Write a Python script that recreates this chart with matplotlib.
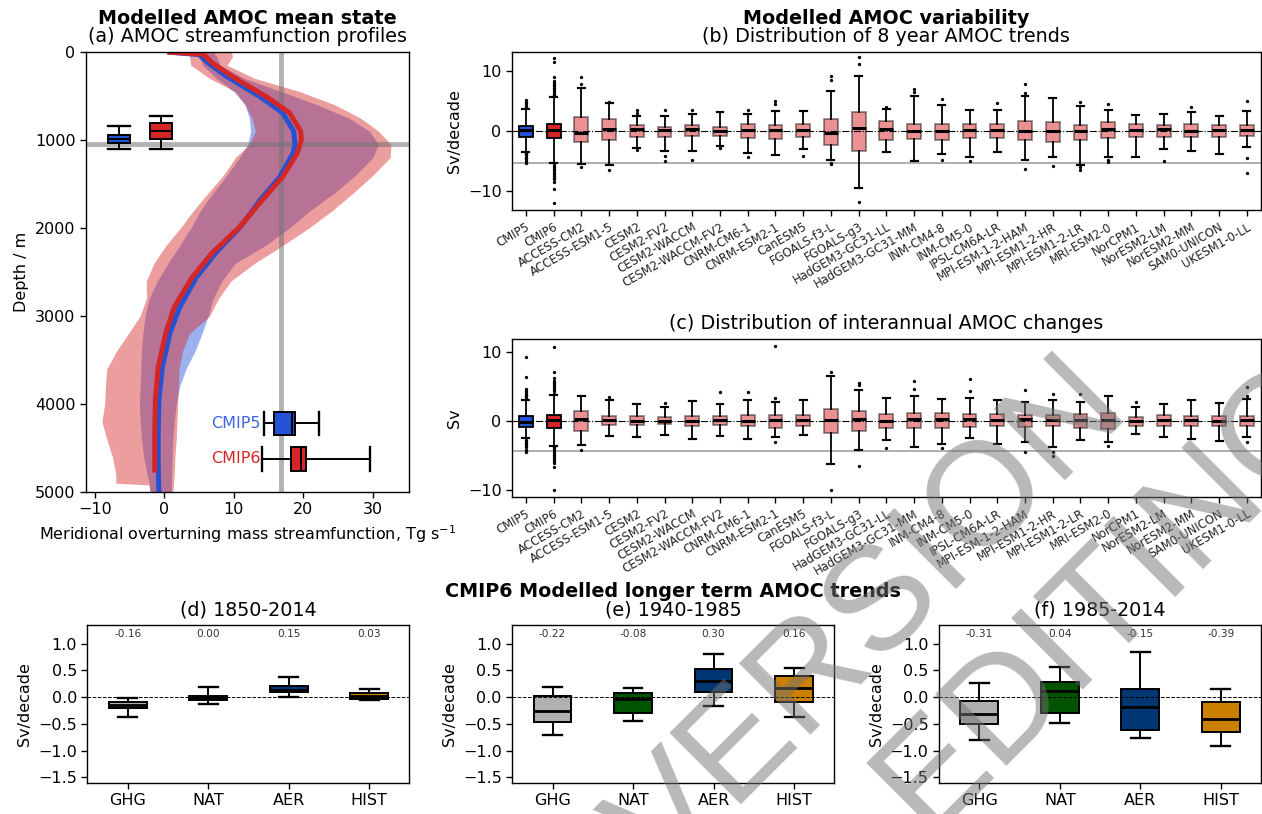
import matplotlib
matplotlib.use("Agg")
import matplotlib.pyplot as plt

plt.rcParams['font.family'] = ['DejaVu Sans']
plt.rcParams['font.size'] = 11.5
plt.rcParams['axes.linewidth'] = 1.0
plt.rcParams['xtick.major.width'] = 1.0
plt.rcParams['ytick.major.width'] = 1.0
plt.rcParams['xtick.major.size'] = 4
plt.rcParams['ytick.major.size'] = 4

# ---------------- (a) streamfunction profiles ----------------
depth6 = [0, 25, 125, 280, 510, 690, 900, 1000, 1150, 1420, 1680, 1990, 2280, 2560,
          2900, 3190, 3580, 3950, 4330, 4780]
amoc6 = [0.5, 5.6, 6.9, 9.8, 14.7, 18.0, 19.6, 19.7, 19.1, 17.0, 14.1, 10.8, 6.9, 4.0,
         1.4, 0.2, -0.9, -1.3, -1.4, -1.4]
depth5 = [0, 30, 125, 280, 510, 690, 900, 1050, 1150, 1420, 1680, 1990, 2280, 2560,
          2900, 3190, 3580, 3950, 4330, 4700, 5000]
amoc5 = [0.4, 5.0, 6.3, 9.0, 13.8, 17.0, 18.6, 18.8, 18.5, 16.6, 13.8, 10.9, 7.4, 4.6,
         2.2, 0.8, -0.3, -0.8, -0.9, -0.9, -0.8]

band_depth = [0, 50, 150, 300, 450, 600, 750, 900, 1050, 1200, 1400, 1600, 1800, 2000,
              2200, 2400, 2600, 2800, 3000, 3200, 3400, 3600, 3800, 4000, 4200, 4400,
              4600, 4800, 4900, 4920, 5000]
cmip6_lo = [3.6, 3.6, 3.8, 6.5, 10.2, 11.6, 12.6, 13.1, 12.2, 10.2, 8.5, 6.3, 4.2, 2.3,
            0.2, -1.5, -2.6, -2.6, -3.5, -5.2, -6.9, -8.3, -8.5, -8.6, -9.0, -8.3,
            -7.5, -7.0, -7.0, -2.2, -2.1]
cmip6_hi = [9.6, 9.8, 9.0, 13.0, 19.5, 24.5, 28.2, 30.8, 32.6, 32.5, 30.0, 27.2, 24.2,
            20.8, 17.0, 13.0, 9.6, 7.8, 6.5, 3.6, 2.6, 2.1, 2.0, 1.9, 1.8, 1.7, 1.5,
            1.4, 1.3, 1.3, 1.2]
cmip5_lo = [5.0, 5.0, 5.5, 7.5, 10.0, 11.6, 12.2, 12.4, 12.0, 10.8, 9.0, 7.0, 5.2, 3.8,
            2.2, 0.5, -1.0, -2.2, -2.8, -3.1, -3.3, -3.4, -3.5, -3.6, -3.5, -3.3,
            -3.0, -2.5, -2.2, -2.2, -2.1]
cmip5_hi = [7.0, 7.5, 8.0, 11.5, 16.8, 22.0, 26.5, 29.5, 30.8, 30.0, 27.5, 24.5, 21.0,
            18.0, 14.5, 10.2, 8.3, 7.0, 6.3, 5.4, 4.4, 3.1, 2.2, 1.7, 1.4, 1.2, 1.1,
            1.0, 1.0, 1.0, 1.0]

obs_strength = 16.8      # Tg/s
obs_depth = 1040         # m

# depth of the overturning maximum (m)
maxdepth5 = dict(whislo=837, q1=947, med=992, q3=1038, whishi=1102)
maxdepth6 = dict(whislo=727, q1=811, med=894, q3=989, whishi=1102)
# overturning maximum strength (Tg/s)
strength5 = dict(whislo=14.3, q1=15.8, med=18.4, q3=18.85, whishi=22.2)
strength6 = dict(whislo=14.1, q1=18.2, med=19.7, q3=20.4, whishi=29.6)

# ---------------- (b), (c) model distributions ----------------
models = ['CMIP5', 'CMIP6', 'ACCESS-CM2', 'ACCESS-ESM1-5', 'CESM2', 'CESM2-FV2',
          'CESM2-WACCM', 'CESM2-WACCM-FV2', 'CNRM-CM6-1', 'CNRM-ESM2-1', 'CanESM5',
          'FGOALS-f3-L', 'FGOALS-g3', 'HadGEM3-GC31-LL', 'HadGEM3-GC31-MM',
          'INM-CM4-8', 'INM-CM5-0', 'IPSL-CM6A-LR', 'MPI-ESM-1-2-HAM', 'MPI-ESM1-2-HR',
          'MPI-ESM1-2-LR', 'MRI-ESM2-0', 'NorCPM1', 'NorESM2-LM', 'NorESM2-MM',
          'SAM0-UNICON', 'UKESM1-0-LL']

trend_med = [0.1, 0.2, -0.3, 0.3, 0.3, 0.1, 0.3, 0.0, 0.1, 0.1, 0.2, -0.3, 0.4, 0.3,
             0.0, 0.0, 0.1, 0.1, 0.0, 0.0, 0.0, 0.3, 0.2, 0.3, 0.0, 0.1, 0.2]
trend_q1 = [-1.0, -1.2, -1.9, -1.6, -1.0, -1.0, -0.8, -0.9, -1.2, -1.3, -1.0, -2.4,
            -3.3, -1.6, -1.4, -1.6, -1.2, -1.2, -1.6, -1.8, -1.6, -1.2, -1.0, -1.0,
            -1.0, -1.0, -0.8]
trend_q3 = [0.8, 1.1, 2.3, 1.9, 0.9, 0.7, 0.9, 0.7, 1.1, 0.9, 1.1, 1.9, 3.1, 1.6, 1.2,
            1.2, 1.2, 1.2, 1.6, 1.4, 0.9, 1.4, 1.2, 0.9, 1.2, 0.9, 0.9]
trend_lo = [-3.5, -5.4, -5.6, -5.7, -2.8, -3.3, -3.3, -2.6, -3.7, -4.1, -3.1, -4.8,
            -9.6, -3.6, -5.1, -3.9, -4.4, -3.6, -4.9, -4.4, -5.7, -4.4, -4.4, -3.1,
            -3.3, -3.8, -2.7]
trend_hi = [3.6, 5.7, 7.2, 4.7, 2.5, 2.5, 2.8, 3.1, 2.8, 3.3, 3.3, 6.6, 9.2, 3.7, 5.8,
            4.3, 3.4, 3.5, 5.8, 5.5, 4.1, 3.5, 2.6, 2.8, 3.2, 2.4, 3.3]
trend_fliers = [
    [3.8, 4.0, 4.2, 4.4, 4.6, 4.8, 5.1, -3.7, -3.9, -4.1, -4.3, -4.5, -4.7, -5.0, -5.3],
    [5.9, 6.2, 6.5, 6.8, 7.1, 7.4, 7.7, 8.0, 8.3, 9.0, 11.5, 12.2,
     -5.7, -6.0, -6.3, -6.6, -6.9, -7.2, -7.5, -7.8, -8.1, -8.5, -9.7, -12.0],
    [8.9, 7.8, -6.1], [4.8, -6.6], [3.4, 3.0, -3.2], [3.4, -4.2, -5.0], [3.4, -4.9],
    [-2.9], [3.5, -4.4], [5.0, 4.5], [-4.2], [9.2, 8.4, -5.3, -5.6],
    [12.3, 11.1, -11.9], [4.0], [7.0, 6.4], [5.3, -4.8], [-5.0], [4.7],
    [7.8, 6.3, -6.4], [-5.9], [4.8, -6.1, -6.6], [4.5, -4.9, -5.2], [], [-5.0],
    [4.0], [], [4.9, -4.6, -7.0]]

change_med = [-0.1, 0.2, 0.3, 0.1, 0.0, 0.05, 0.0, 0.1, 0.0, 0.2, 0.1, 0.2, 0.3, 0.0,
              0.3, 0.3, 0.3, 0.2, 0.3, 0.2, 0.2, 0.2, 0.05, 0.1, 0.1, 0.0, 0.2]
change_q1 = [-0.9, -1.0, -1.4, -0.6, -0.6, -0.5, -0.7, -0.6, -0.8, -1.0, -0.8, -1.7,
             -1.4, -1.0, -1.0, -1.1, -0.9, -0.8, -0.9, -0.8, -1.0, -1.2, -0.7, -0.8,
             -0.7, -0.8, -0.8]
change_q3 = [0.7, 0.9, 1.4, 0.7, 0.7, 0.6, 0.7, 0.7, 0.8, 0.9, 0.9, 1.7, 1.4, 1.0, 1.2,
             1.2, 1.0, 1.0, 0.8, 0.9, 1.0, 1.2, 0.6, 0.9, 0.7, 0.7, 0.7]
change_lo = [-2.5, -3.6, -3.5, -2.2, -2.3, -2.1, -2.7, -2.2, -2.6, -2.3, -2.1, -6.3,
             -4.3, -2.8, -3.8, -3.4, -2.5, -3.3, -3.0, -3.8, -2.8, -3.0, -1.9, -2.3,
             -2.7, -2.9, -2.3]
change_hi = [3.1, 3.8, 3.6, 3.0, 2.4, 2.0, 2.9, 2.4, 3.1, 2.8, 3.1, 6.5, 4.5, 3.4, 3.6,
             3.2, 3.4, 3.1, 2.8, 3.1, 2.8, 3.6, 2.0, 2.5, 3.0, 2.6, 3.2]
change_fliers = [
    [3.4, 3.6, 3.8, 4.0, 4.2, 4.4, 4.6, 6.4, 9.3,
     -2.8, -3.0, -3.2, -3.4, -3.6, -3.8, -4.2, -4.6],
    [4.0, 4.3, 4.6, 4.9, 5.2, 5.5, 5.8, 6.2, 7.2, 10.8,
     -3.8, -4.1, -4.4, -4.7, -5.0, -5.3, -5.6, -5.9, -6.2, -6.7, -10.0],
    [-4.2], [3.5], [], [2.6], [], [4.2], [4.2], [3.3, -3.0, 10.9], [], [7.2, -10.0],
    [5.6, 5.3, -6.5], [-4.0], [5.9, 4.7], [-4.0], [6.1, 4.4], [],
    [4.5, -4.6], [3.9, -4.5, -5.1], [3.9], [-3.7], [2.8], [], [], [],
    [5.0, 3.6, -3.0]]

rapid_trend = -5.3     # Sv/decade
rapid_change = -4.4    # Sv

# ---------------- (d)-(f) forcing experiments ----------------
experiments = ['GHG', 'NAT', 'AER', 'HIST']
exp_colors = ['#b0b0b0', '#005400', '#003672', '#cc8000']
periods = ['(d) 1850-2014', '(e) 1940-1985', '(f) 1985-2014']
period_means = [[-0.16, 0.00, 0.15, 0.03],
                [-0.22, -0.08, 0.30, 0.16],
                [-0.31, 0.04, -0.15, -0.39]]
period_med = [[-0.145, -0.02, 0.14, 0.025],
              [-0.256, -0.03, 0.30, 0.17],
              [-0.32, 0.12, -0.19, -0.41]]
period_q1 = [[-0.2, -0.06, 0.09, -0.03],
             [-0.47, -0.29, 0.09, -0.09],
             [-0.5, -0.29, -0.62, -0.66]]
period_q3 = [[-0.1, 0.025, 0.21, 0.075],
             [0.03, 0.08, 0.525, 0.39],
             [-0.075, 0.28, 0.15, -0.1]]
period_lo = [[-0.375, -0.13, 0.0, -0.06],
             [-0.71, -0.44, -0.16, -0.37],
             [-0.81, -0.49, -0.77, -0.91]]
period_hi = [[-0.02, 0.19, 0.375, 0.16],
             [0.19, 0.17, 0.81, 0.54],
             [0.26, 0.56, 0.84, 0.15]]

blue = '#2352d4'
red = '#d42626'

fig = plt.figure(figsize=(12.62, 8.14), dpi=100)

# ---------------- panel (a) ----------------
ax_a = fig.add_axes([0.0681, 0.3956, 0.2560, 0.5405])
ax_a.fill_betweenx(band_depth, cmip5_lo, cmip5_hi, color='#3a66e0', alpha=0.5, lw=0,
                   zorder=1)
ax_a.fill_betweenx(band_depth, cmip6_lo, cmip6_hi, color='#d62728', alpha=0.45, lw=0,
                   zorder=1.1)
ax_a.axvline(obs_strength, color='0.45', alpha=0.55, lw=3.5, zorder=1.5)
ax_a.axhline(obs_depth, color='0.45', alpha=0.55, lw=3.5, zorder=1.5)
ax_a.plot(amoc5, depth5, color=blue, lw=3.6, zorder=2, solid_capstyle='butt')
ax_a.plot(amoc6, depth6, color=red, lw=3.6, zorder=2.1, solid_capstyle='butt')


def draw_boxes(ax, stats, positions, widths, faces, edges, horizontal=False,
               capw=None, med_lw=1.6, box_lw=1.2, flier_ms=2.5, zorder=3):
    kw = dict(positions=positions, widths=widths, patch_artist=True,
              showfliers=True, manage_ticks=False, zorder=zorder,
              medianprops=dict(color='black', lw=med_lw),
              whiskerprops=dict(color='black', lw=box_lw),
              capprops=dict(color='black', lw=box_lw * 1.2),
              flierprops=dict(marker='o', markersize=flier_ms,
                              markerfacecolor='black', markeredgecolor='none'))
    if capw is not None:
        kw['capwidths'] = capw
    if horizontal:
        kw['orientation'] = 'horizontal'
    art = ax.bxp(stats, **kw)
    for patch, fc, ec in zip(art['boxes'], faces, edges):
        patch.set_facecolor(fc)
        patch.set_edgecolor(ec)
        patch.set_linewidth(box_lw)
    return art


depth_stats = [dict(maxdepth5, fliers=[]), dict(maxdepth6, fliers=[])]
draw_boxes(ax_a, depth_stats, [-6.5, -0.5], [3.2, 3.2], [blue, red],
           ['black', 'black'], capw=[3.2, 3.2], med_lw=1.4, box_lw=1.4)
strength_stats = [dict(strength5, fliers=[]), dict(strength6, fliers=[])]
draw_boxes(ax_a, strength_stats, [4220, 4625], [265, 265], [blue, red],
           ['black', 'black'], horizontal=True, capw=[265, 265], med_lw=1.4,
           box_lw=1.4)
ax_a.text(13.8, 4220, 'CMIP5', color='#3a66e0', ha='right', va='center', fontsize=11.5)
ax_a.text(13.8, 4625, 'CMIP6', color=red, ha='right', va='center', fontsize=11.5)

ax_a.set_xlim(-11.3, 35.2)
ax_a.set_ylim(5000, 0)
ax_a.set_xticks([-10, 0, 10, 20, 30])
ax_a.set_yticks([0, 1000, 2000, 3000, 4000, 5000])
ax_a.set_ylabel('Depth / m')
ax_a.set_xlabel('Meridional overturning mass streamfunction, Tg s$^{-1}$')


def two_line_title(ax, bold, normal):
    ax.set_title(normal, fontsize=13.8, pad=6.9)
    ax.annotate(bold, xy=(0.5, 1.0), xycoords='axes fraction',
                xytext=(0, 20.2), textcoords='offset points', ha='center',
                va='baseline', fontsize=13.8, fontweight='bold')


two_line_title(ax_a, 'Modelled AMOC mean state', '(a) AMOC streamfunction profiles')

# ---------------- panels (b) and (c) ----------------
positions = list(range(1, len(models) + 1))
face_list = [blue, red] + [(0.84, 0.15, 0.16, 0.5)] * (len(models) - 2)
edge_list = ['black', 'black'] + [(0, 0, 0, 0.45)] * (len(models) - 2)


def model_panel(rect, med, q1, q3, lo, hi, fl, ref, ylabel, ylim):
    ax = fig.add_axes(rect)
    stats = [dict(med=m, q1=a, q3=b, whislo=l, whishi=h, fliers=f)
             for m, a, b, l, h, f in zip(med, q1, q3, lo, hi, fl)]
    ax.axhline(ref, color='#a8a8a8', lw=1.3, zorder=0.5)
    draw_boxes(ax, stats, positions, [0.5] * len(models), face_list, edge_list,
               med_lw=2.2, box_lw=1.3, flier_ms=2.4)
    ax.axhline(0, color='black', lw=0.8, ls='-.', zorder=6)
    ax.set_xlim(0.5, len(models) + 0.5)
    ax.set_ylim(*ylim)
    ax.set_yticks([-10, 0, 10])
    ax.set_xticks(positions)
    ax.set_xticklabels(models, rotation=30, ha='right', rotation_mode='anchor',
                       fontsize=8.4, color='#222222')
    ax.set_ylabel(ylabel)
    return ax


ax_b = model_panel([0.4057, 0.742, 0.5933, 0.1945], trend_med, trend_q1, trend_q3,
                   trend_lo, trend_hi, trend_fliers, rapid_trend, 'Sv/decade',
                   (-13.2, 13.2))
two_line_title(ax_b, 'Modelled AMOC variability', '(b) Distribution of 8 year AMOC trends')

ax_c = model_panel([0.4057, 0.3898, 0.5933, 0.1937], change_med, change_q1,
                   change_q3, change_lo, change_hi, change_fliers, rapid_change, 'Sv',
                   (-11.05, 11.95))
ax_c.set_title('(c) Distribution of interannual AMOC changes', fontsize=13.8, pad=6.9)

# ---------------- panels (d)-(f) ----------------
lefts = [0.0692, 0.4059, 0.7441]
exp_pos = [1, 2, 3, 4]
for k in range(3):
    ax = fig.add_axes([lefts[k], 0.0385, 0.2552, 0.1937])
    stats = [dict(med=period_med[k][i], q1=period_q1[k][i], q3=period_q3[k][i],
                  whislo=period_lo[k][i], whishi=period_hi[k][i], fliers=[])
             for i in range(4)]
    draw_boxes(ax, stats, exp_pos, [0.47] * 4, exp_colors, ['black'] * 4,
               med_lw=2.0, box_lw=1.4)
    ax.axhline(0, color='black', lw=0.7, ls='--', zorder=6)
    for i, mval in enumerate(period_means[k]):
        ax.text(exp_pos[i], 1.19, f'{mval:.2f}', ha='center', va='center',
                fontsize=7.6, color='#333333')
    ax.set_xlim(0.5, 4.5)
    ax.set_ylim(-1.6, 1.35)
    ax.set_yticks([-1.5, -1.0, -0.5, 0.0, 0.5, 1.0])
    ax.set_xticks(exp_pos)
    ax.set_xticklabels(experiments)
    ax.set_ylabel('Sv/decade')
    if k == 1:
        two_line_title(ax, 'CMIP6 Modelled longer term AMOC trends', periods[k])
    else:
        ax.set_title(periods[k], fontsize=13.8, pad=6.9)

# ---------------- overlay stamp ----------------
stamp = dict(rotation=45, rotation_mode='anchor', ha='center', va='center',
             fontsize=106, family=['Liberation Sans', 'DejaVu Sans'],
             color='0.45', alpha=0.5, zorder=20)
fig.text(0.690, 0.238, 'VERSION', **stamp)
fig.text(0.880, 0.268, 'EDITING', **stamp)

fig.savefig('out.png', dpi=100)
